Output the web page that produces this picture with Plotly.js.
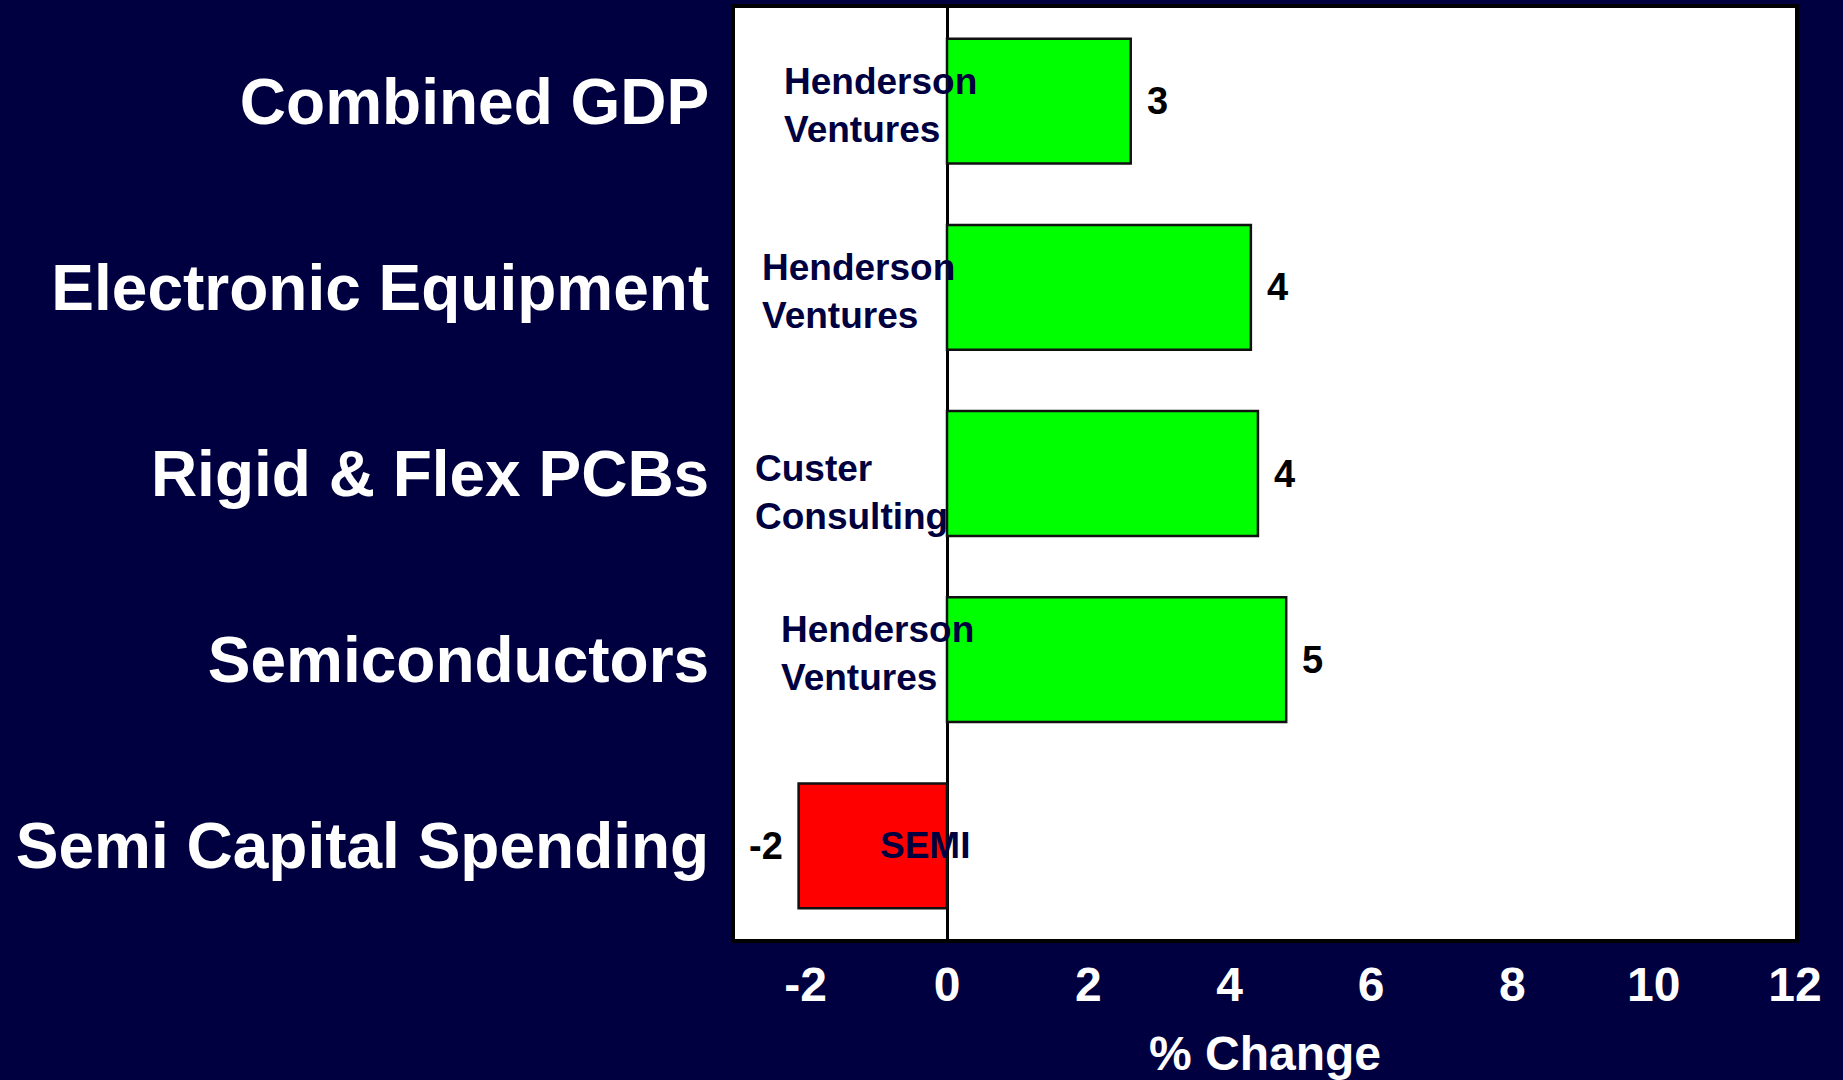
<!DOCTYPE html>
<html>
<head>
<meta charset="utf-8">
<script src="https://cdn.plot.ly/plotly-3.0.1.min.js"></script>
<style>
  html, body { margin: 0; padding: 0; background: #000040; }
  #chart { width: 1843px; height: 1080px; }
</style>
</head>
<body>
<div id="chart"></div>
<script>
// ---- Data ----
const categories = ['Combined GDP', 'Electronic Equipment', 'Rigid & Flex PCBs', 'Semiconductors', 'Semi Capital Spending'];
const changes = [2.6, 4.3, 4.4, 4.8, -2.1];
const sources = ['Henderson<br>Ventures', 'Henderson<br>Ventures', 'Custer<br>Consulting', 'Henderson<br>Ventures', 'SEMI'];
const xTicks = [-2, 0, 2, 4, 6, 8, 10, 12];

// ---- Layout helpers (placement of source notes, not data) ----
const sourceX = [-2.34, -2.64, -2.75, -2.38, -0.97];
const sourceYShift = [-4, -4, -19, 6, 0];

const FONT = '"Liberation Sans", Arial, Helvetica, sans-serif';
const NAVY = '#000040';

const barColors = changes.map(v => v >= 0 ? '#00ff00' : '#ff0000');

const trace = {
  type: 'bar',
  orientation: 'h',
  x: changes,
  y: categories,
  width: 0.67,
  marker: { color: barColors, line: { color: '#111111', width: 2.5 } },
  hoverinfo: 'x+y'
};

const annotations = [];
categories.forEach((c, i) => {
  annotations.push({
    x: sourceX[i], y: c, xref: 'x', yref: 'y',
    text: '<b>' + sources[i] + '</b>',
    showarrow: false, xanchor: 'left', yanchor: 'middle', align: 'left',
    yshift: sourceYShift[i],
    font: { family: FONT, size: 37, color: NAVY }
  });
  const v = changes[i];
  annotations.push({
    x: v, y: c, xref: 'x', yref: 'y',
    text: '<b>' + Math.round(v) + '</b>',
    showarrow: false,
    xanchor: v >= 0 ? 'left' : 'right',
    xshift: v >= 0 ? 14 : -14,
    yanchor: 'middle',
    font: { family: FONT, size: 38, color: '#000000' }
  });
});

const layout = {
  width: 1843,
  height: 1080,
  paper_bgcolor: NAVY,
  plot_bgcolor: '#ffffff',
  margin: { l: 735, r: 48, t: 8, b: 141 },
  showlegend: false,
  bargap: 0.33,
  font: { family: FONT, color: '#ffffff' },
  xaxis: {
    range: [-3, 12],
    tickvals: xTicks,
    ticktext: xTicks.map(String),
    showgrid: false,
    zeroline: true,
    zerolinecolor: '#000000',
    zerolinewidth: 3,
    showline: true,
    mirror: true,
    linecolor: '#000000',
    linewidth: 4,
    ticks: '',
    ticklabelstandoff: 0,
    tickfont: { family: FONT, size: 48, color: '#ffffff', weight: 'bold' },
    title: {
      text: '<b>% Change</b>',
      font: { family: FONT, size: 48, color: '#ffffff' },
      standoff: 28
    },
    fixedrange: true
  },
  yaxis: {
    autorange: 'reversed',
    showgrid: false,
    zeroline: false,
    showline: true,
    mirror: true,
    linecolor: '#000000',
    linewidth: 4,
    ticks: '',
    ticklabelstandoff: 9,
    tickfont: { family: FONT, size: 64, color: '#ffffff', weight: 'bold' },
    fixedrange: true
  },
  annotations: annotations
};

Plotly.newPlot('chart', [trace], layout, { displayModeBar: false, staticPlot: true });
</script>
</body>
</html>
